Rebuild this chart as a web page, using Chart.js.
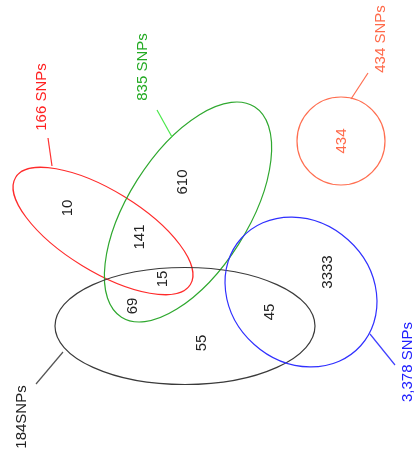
<!DOCTYPE html>
<html>
<head>
<meta charset="utf-8">
<script src="https://cdn.jsdelivr.net/npm/chart.js@4/dist/chart.umd.min.js"></script>
<style>
  html, body { margin: 0; padding: 0; background: #fff; }
  canvas { display: block; }
</style>
</head>
<body>
<canvas id="myChart" width="414" height="459"></canvas>
<script>
// values
var setLabels = ['166 SNPs', '835 SNPs', '184SNPs', '3,378 SNPs', '434 SNPs']
var regionCounts = [10, 610, 141, 15, 69, 55, 45, 3333, 434]

// layout (in plot units, 1 unit = 1 px)
var setShapes = [
    { cx: 103, cy: 231, rx: 102.5, ry: 40.4, rot: 31.5 },   // red
    { cx: 188, cy: 212, rx: 124.5, ry: 60, rot: -57.7 },    // green
    { cx: 185, cy: 326, rx: 130, ry: 58.5, rot: 0 },        // black
    { cx: 301, cy: 292, rx: 80.3, ry: 70.3, rot: 42 },      // blue
    { cx: 341, cy: 141, rx: 44, ry: 44, rot: 0 }            // orange
]
var regionAnchors = [[68, 208], [183, 182], [140, 237], [163, 279], [133, 306],
                     [202, 343], [270, 312], [328, 272], [342, 141]]
var labelAnchors = [[42, 97], [143, 67], [22, 417], [408, 362], [381, 39]]
var leaderLines = [[[48, 138], [52, 166]], [[157, 110], [172, 137]], [[36, 384], [63, 352]],
                   [[370, 334], [395, 365]], [[368, 73], [351, 99]]]

// styles
var setColors = ['#ff2b2b', '#2fa82f', '#3a3a3a', '#3030ff', '#ff6e50']
var leaderColors = ['#ff3030', '#4be84b', '#555555', '#4040ff', '#ff6e50']
var labelColors = ['#ff2020', '#22aa22', '#222222', '#2020ff', '#ff6a4a']
var regionColors = ['#222', '#222', '#222', '#222', '#222', '#222', '#222', '#222', '#ff6a4a']

var ellipsePlugin = {
    id: 'ellipses',
    beforeDatasetsDraw: function(chart) {
        var ctx = chart.ctx, xs = chart.scales.x, ys = chart.scales.y
        setShapes.forEach(function(s, i) {
            var px = xs.getPixelForValue(s.cx), py = ys.getPixelForValue(s.cy)
            var rx = Math.abs(xs.getPixelForValue(s.cx + s.rx) - px)
            var ry = Math.abs(ys.getPixelForValue(s.cy + s.ry) - py)
            ctx.save()
            ctx.beginPath()
            ctx.ellipse(px, py, rx, ry, s.rot * Math.PI / 180, 0, 2 * Math.PI)
            ctx.strokeStyle = setColors[i]
            ctx.lineWidth = 1.2
            ctx.stroke()
            ctx.restore()
        })
    }
}

var textPlugin = {
    id: 'rotatedText',
    afterDatasetsDraw: function(chart) {
        var ctx = chart.ctx
        function draw(meta, texts, colors) {
            meta.data.forEach(function(pt, i) {
                ctx.save()
                ctx.translate(pt.x, pt.y)
                ctx.rotate(-Math.PI / 2)
                ctx.font = '15px "Liberation Sans", Arial, sans-serif'
                ctx.textAlign = 'center'
                ctx.textBaseline = 'middle'
                ctx.fillStyle = colors[i]
                ctx.fillText(String(texts[i]), 0, 0)
                ctx.restore()
            })
        }
        draw(chart.getDatasetMeta(0), regionCounts, regionColors)
        draw(chart.getDatasetMeta(1), setLabels, labelColors)
    }
}

var datasets = [
    { label: 'regions', data: regionAnchors.map(function(p) { return { x: p[0], y: p[1] } }), pointRadius: 0 },
    { label: 'sets', data: labelAnchors.map(function(p) { return { x: p[0], y: p[1] } }), pointRadius: 0 }
]
leaderLines.forEach(function(l, i) {
    datasets.push({
        type: 'line',
        data: l.map(function(p) { return { x: p[0], y: p[1] } }),
        borderColor: leaderColors[i],
        borderWidth: 1.2,
        pointRadius: 0,
        showLine: true,
        clip: false
    })
})

new Chart(document.getElementById('myChart'), {
    type: 'scatter',
    data: { datasets: datasets },
    options: {
        responsive: false,
        animation: false,
        devicePixelRatio: 1,
        layout: { padding: 0 },
        plugins: { legend: { display: false }, tooltip: { enabled: false } },
        scales: {
            x: { type: 'linear', min: 0, max: 414, display: false },
            y: { type: 'linear', min: 0, max: 459, reverse: true, display: false }
        }
    },
    plugins: [ellipsePlugin, textPlugin]
})
</script>
</body>
</html>
